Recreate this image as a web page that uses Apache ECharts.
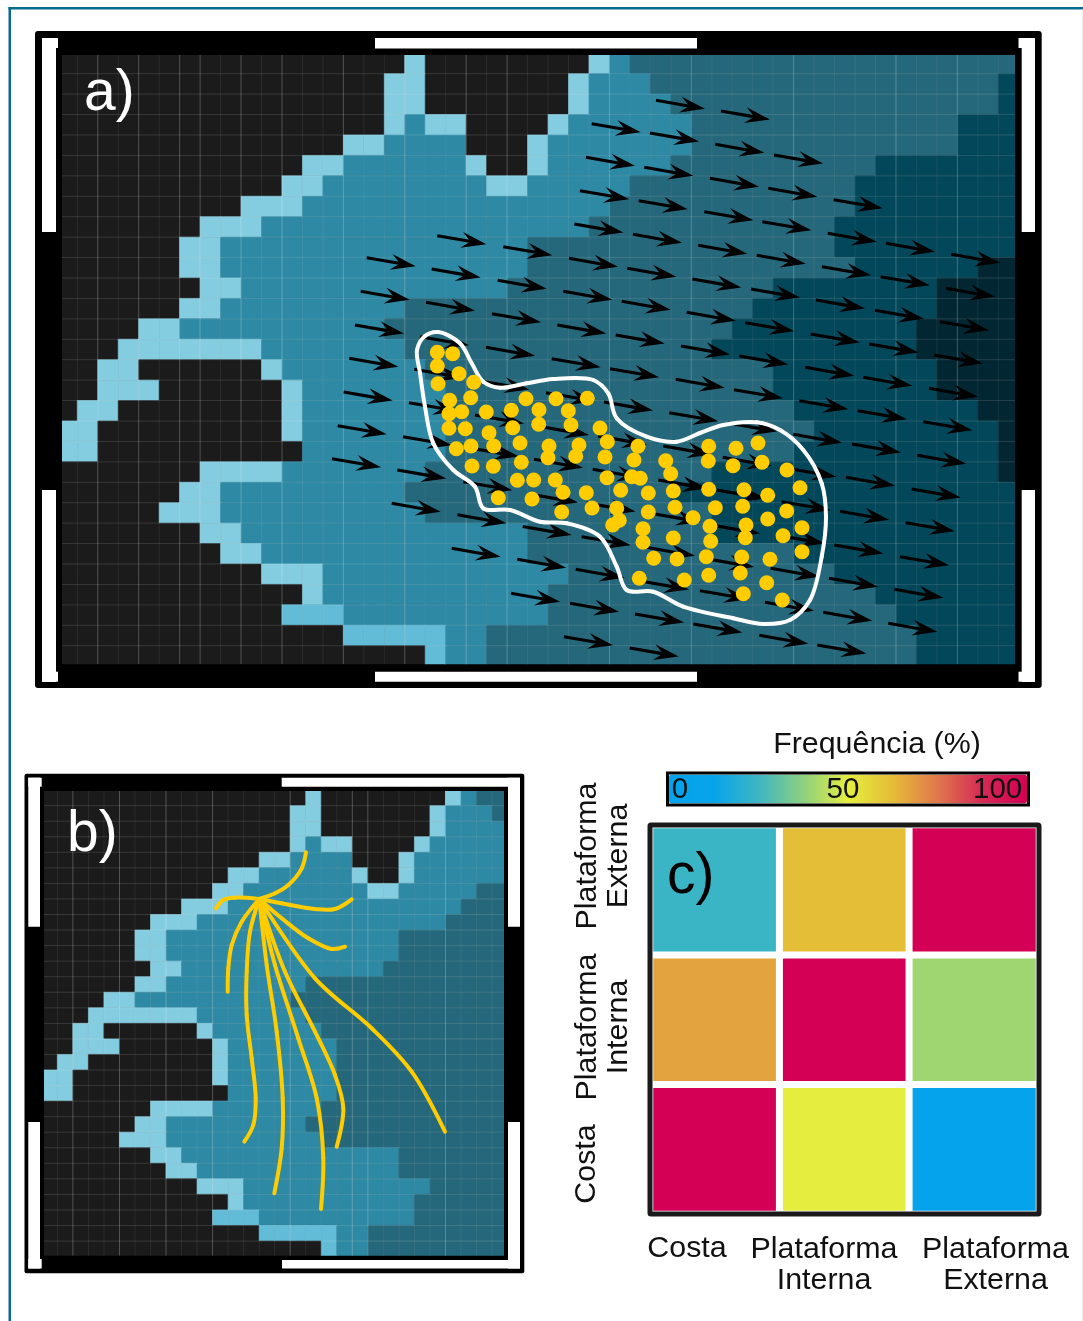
<!DOCTYPE html>
<html>
<head>
<meta charset="utf-8">
<style>html,body{margin:0;padding:0;background:#fff}#c{width:1083px;height:1321px}</style>
<script src="https://cdn.jsdelivr.net/npm/echarts@6/dist/echarts.min.js"></script>
</head>
<body>
<div id="c"></div>
<script>
// Depth class per cell, written per row as (class, last column of the run) pairs.
// 0 land, 1 shallow, 2 inner shelf, 3 mid shelf, 4 outer shelf, 5 deepest, 6 bright coast
const mapARows = [
 [0,16,1,17,0,25,1,26,2,27,3,46],
 [0,15,1,17,0,24,1,25,2,28,3,45,4,46],
 [0,15,1,17,0,24,1,25,2,29,3,45,4,46],
 [0,15,1,16,2,17,1,19,0,23,1,24,2,30,3,43,4,46],
 [0,13,1,15,2,19,0,22,1,23,2,30,3,43,4,46],
 [0,11,1,13,2,19,1,20,0,22,1,23,2,29,3,39,4,46],
 [0,10,1,12,2,20,1,22,2,27,3,38,4,46],
 [0,8,1,11,2,26,3,38,4,46],
 [0,6,1,9,2,25,3,37,4,46],
 [0,5,1,7,2,22,3,37,4,46],
 [0,5,1,7,2,22,3,38,4,44,5,46],
 [0,6,1,8,2,21,3,34,4,42,5,46],
 [0,5,1,7,2,16,3,33,4,42,5,46],
 [0,3,1,5,2,15,3,32,4,41,5,46],
 [0,2,1,9,2,16,3,31,4,41,5,46],
 [0,1,1,3,0,9,1,10,2,17,3,34,4,42,5,46],
 [0,1,1,4,0,10,1,11,2,18,3,34,4,42,5,46],
 [0,0,1,2,0,10,1,11,2,18,3,35,4,44,5,46],
 [1,1,0,10,1,11,2,18,3,36,4,45,5,46],
 [1,1,0,11,2,18,3,35,4,45,5,46],
 [0,6,1,10,2,17,3,31,4,45,5,46],
 [0,5,1,7,2,16,3,29,4,46],
 [0,4,1,7,2,17,3,31,4,46],
 [0,6,1,8,2,22,3,31,4,46],
 [0,7,1,9,2,22,3,35,4,46],
 [0,9,1,12,2,24,3,37,4,46],
 [0,11,1,12,2,23,3,39,4,46],
 [0,10,6,13,2,23,3,40,4,46],
 [0,13,6,18,2,20,3,41,4,46],
 [0,17,6,18,2,20,3,41,4,46]
];
const mapBRows = [
 [0,16,1,17,0,25,1,26,2,27,3,29],
 [0,15,1,17,0,24,1,25,2,28,3,29],
 [0,15,1,17,0,24,1,25,2,29],
 [0,15,1,16,2,17,1,19,0,23,1,24,2,29],
 [0,13,1,15,2,19,0,22,1,23,2,29],
 [0,11,1,13,2,19,1,20,0,22,1,23,2,29],
 [0,10,1,12,2,20,1,22,2,27,3,29],
 [0,8,1,11,2,26,3,29],
 [0,6,1,9,2,25,3,29],
 [0,5,1,7,2,22,3,29],
 [0,5,1,7,2,22,3,29],
 [0,6,1,8,2,21,3,29],
 [0,5,1,7,2,16,3,29],
 [0,3,1,5,2,15,3,29],
 [0,2,1,9,2,16,3,29],
 [0,1,1,3,0,9,1,10,2,17,3,29],
 [0,1,1,4,0,10,1,11,2,18,3,29],
 [0,0,1,2,0,10,1,11,2,18,3,29],
 [1,1,0,10,1,11,2,18,3,29],
 [1,1,0,11,2,18,3,29],
 [0,6,1,10,2,17,3,29],
 [0,5,1,7,2,16,3,29],
 [0,4,1,7,2,17,3,29],
 [0,6,1,8,2,22,3,29],
 [0,7,1,9,2,22,3,29],
 [0,9,1,12,2,24,3,29],
 [0,11,1,12,2,23,3,29],
 [0,10,6,13,2,23,3,29],
 [0,13,6,18,2,20,3,29],
 [0,17,6,18,2,20,3,29]
];
const depthColors = ['#1b1b1b','#84cce0','#2e89a4','#25687b','#03475a','#022733','#62bcd7'];

// Current vectors: tail points, on the overlay axes of panel a
const vectorTails = [
 [656,100.3],[721,111],
 [591.7,123.7],[650,133],[715.3,144.3],[774,155],
 [586,157.3],[644.3,167.3],[710,178.3],[768.3,188.3],[833.7,199.7],
 [580,190.7],[638.7,200.7],[704.3,211.7],[762.3,221.7],[827.7,233.3],[886,243.3],[951.3,254.3],
 [574.3,224],[633,234.3],[698.3,245.3],[756.7,255.3],[822,266.7],[880.7,276.7],[946,288.3],
 [437.3,235.7],[503.3,246.7],[569,258.3],[627.3,268.3],[692.3,279],[751,289],[816,300],[875,310.3],[940,321.7],
 [366.7,257.7],[431.7,269],[497.7,280.3],[563.3,291.3],[621.7,301.3],[686.7,312.3],[745.3,322.7],[810.7,334],[869.3,344],[934,355],
 [360.7,291.3],[426,302.3],[492,313.7],[557.3,325],[615.7,335],[681,346],[739.3,356],[805.3,367.3],[863.3,377.3],[929,388.3],
 [355,325],[420,336.7],[486,347.3],[551.7,358.7],[610,368.7],[675.7,379.3],[734,389.7],[799.3,400.7],[857.7,410.7],[923.3,421.7],
 [349.3,358.3],[414.3,369.3],[480.2,381],[546,392.7],[604,402],[669.3,412.7],[728,423],[793.3,434.3],[852,444],[917.3,455.3],
 [343.7,392],[409,402.7],[475,415],[540,426.5],[598,436],[663.3,446],[722.7,457.3],[787.3,468.3],[846,477.3],[911.7,489],
 [337.7,425.7],[403,436.7],[470,448],[534,459.3],[592.7,469.3],[658.3,480],[716.7,490],[781.7,501.7],[840,511.3],[905.7,522.7],
 [332,458.7],[397.3,470],[463.3,481.7],[529,494],[586.5,503],[652,513.5],[711,525],[775.9,535],[834.3,545],[900,556.7],
 [391.7,503.3],[457.5,514.8],[522.7,526.5],[581.7,536.7],[646,547.3],[705,558.5],[770.7,568.3],[829,578.3],[894.3,589.3],
 [451.7,548.3],[517.3,559.3],[575.7,569.3],[640,581],[700,590.7],[765,602.3],[823.3,612.3],[888.3,623.3],
 [511,593.3],[570,603.3],[635,614],[693.3,624],[759.3,635.3],[817.3,645],
 [564,636.7],[629.7,648]
];
const vectorU = 49, vectorV = 8.5;

// Sample sites, panel a
const samplePoints = [
 [437.3,352.3],[452.7,353.7],[437.3,366],[459,373.7],[438,383.7],[473.7,382.3],[470.7,397.7],[449.7,400.3],
 [449,413.7],[461.7,411.7],[486.3,412],[511.3,410.3],[526,398.7],[556,398.7],[587.3,398.3],[539,409.7],
 [568.3,410.7],[449,428.3],[465.3,428.7],[512.7,427.7],[538.7,424.3],[571,425],[489,432.7],[493.7,446],
 [471,446],[456.3,448.7],[520,443],[549,446],[579,445],[600,428],[607.3,441.7],[548,457.7],[575.7,456.3],
 [605,457],[638,446.3],[634,460],[665.7,460.7],[472,466],[493.3,466.3],[521.3,462.3],[607,477.7],[631.7,476.7],
 [640.3,478.3],[670.7,473.7],[517.3,480.3],[533.7,480],[555.3,480],[563,492.3],[586.3,492.7],[620.7,490.3],
 [648.3,493],[673.3,491],[498.3,497.7],[532,499],[561.7,512],[592,508],[616.7,508.3],[648.3,512],[675,507.3],
 [693,517.7],[619.3,520.3],[612.7,525],[643,528.7],[673.3,538],[643,542.3],[653.7,558.3],[677,559],[639.3,578.3],
 [684.3,580],[708.7,446.3],[736,448.3],[758,443],[708.3,461],[733,465.7],[762,462.3],[787,470],[800,487.7],
 [708.7,489.3],[744,489.7],[767.7,495.3],[715.3,507.7],[742.7,506.3],[786.7,511],[710,526.3],[767.7,519],
 [746,525],[802,527.7],[745.3,537.7],[783,535.7],[710.7,541.3],[802,551.7],[706.3,556.7],[741.7,557],[770,559.3],
 [740.3,573],[708.7,575.3],[766.7,582.7],[743.3,593.7],[782.3,600]
];

// Outline around the sample sites, panel a (closed)
const outlinePoints = [
 [438,332],[425,336],[417,350],[420,373],[425,406.7],[433.3,443.3],[453.3,470],[475,486.7],[483.3,508.3],[510,510],
 [540,521.7],[566.7,523.3],[600,536.7],[616.7,566.7],[626.7,590],[653.3,591.7],[683.3,606.7],[733.3,618.3],
 [763.3,624],[790,620],[810,600],[821.7,556.7],[826,516.7],[821.7,483.3],[803.3,450],[780,430],[756.7,422.3],
 [723.3,425],[700,433],[676.7,441.7],[646.7,436.7],[616.7,418.3],[608.3,393.3],[593.3,380],[553.3,379],
 [526.7,383.3],[500,387.7],[483.3,381.7],[471.7,363.3],[460,343.3]
];

// Dispersal paths, panel b
const dispersalPaths = [
 [[306,852.3],[301.7,868.3],[288.3,885],[275,893.3],[259.3,899]],
 [[216,908.3],[223.3,900],[235,897.7],[259.3,899]],
 [[259.3,899],[281.7,903.3],[315,909],[335,909],[351.7,899.3]],
 [[259.3,899],[281.7,918.3],[308.3,938.3],[331.7,949],[345,946.7]],
 [[259.3,899],[241.7,921.7],[231.7,945],[228.3,968.3],[227.7,991.7]],
 [[259.3,899],[250,931.7],[246.7,971.7],[246.7,1015],[251.7,1058.3],[255.7,1098.3],[253.3,1125],[244.3,1141.7]],
 [[259.3,899],[266.7,965],[276.7,1031.7],[282.7,1098.3],[281.7,1148.3],[274.3,1193.3]],
 [[259.3,899],[275,965],[298.3,1038.3],[316.7,1098.3],[323.3,1158.3],[321,1209]],
 [[259.3,899],[285,971.7],[315,1031.7],[335,1075],[343.3,1108.3],[336.7,1146.7]],
 [[259.3,899],[315,978.3],[371.7,1028.3],[411.7,1071.7],[445,1131.7]]
];

// Panel c: frequency (%), origin zone (columns) by destination zone (rows)
const zones = ['Costa','Plataforma Interna','Plataforma Externa'];
const freqCosta = [100, 50, 0];
const freqInterna = [67, 100, 40];
const freqExterna = [24, 62, 100];
const scaleTicks = ['0','50','100'];
const scaleColors = ['#05a3ec','#06a4ea','#3eb6c2','#8ed07f','#e5ee3f','#e5bc37','#e0774b','#d62a55','#d40055'];

function expand(rows){
  const out=[];
  rows.forEach((r,j)=>{ let c=0; for(let k=0;k<r.length;k+=2){ for(;c<=r[k+1];c++) out.push([c,j,r[k]]); } });
  return out;
}
function cellSeries(rows,xi,yi){
  return {type:'custom',xAxisIndex:xi,yAxisIndex:yi,clip:true,silent:true,progressive:0,animation:false,z:2,
    encode:{x:0,y:1},data:expand(rows),
    renderItem(p,api){
      const a=api.coord([api.value(0),api.value(1)]), b=api.coord([api.value(0)+1,api.value(1)+1]);
      const col=depthColors[api.value(2)];
      return {type:'rect',shape:{x:a[0],y:a[1],width:b[0]-a[0],height:b[1]-a[1]},style:{fill:col,stroke:col,lineWidth:0.6}};
    }};
}
function gridSeries(nc,nr,xr,yr,bright,xi,yi){
  const d=[];
  for(let i=1;i<nc;i++) d.push([0,i,bright.indexOf(i)>=0?1:0]);
  for(let j=1;j<nr;j++) d.push([1,j,0]);
  return {type:'custom',xAxisIndex:xi,yAxisIndex:yi,clip:true,silent:true,progressive:0,animation:false,z:3,
    encode:{x:1},data:d,
    renderItem(p,api){
      const isV=api.value(0)===0, v=api.value(1), a=isV?api.coord([v,yr[0]]):api.coord([xr[0],v]), b=isV?api.coord([v,yr[1]]):api.coord([xr[1],v]);
      const alpha=isV?(api.value(2)?0.26:0.09):0.14;
      return {type:'line',shape:{x1:a[0],y1:a[1],x2:b[0],y2:b[1]},style:{stroke:'rgba(255,255,255,'+alpha+')',lineWidth:1}};
    }};
}
// Smooth curve through the read points (centripetal spline), mapped by the axes
function curveSeries(name,points,closed,color,width,xi,yi,z){
  const n=points.length;
  const at=(i,api)=>{
    if(closed) return api.coord(points[(i+n)%n]);
    return api.coord(points[Math.max(0,Math.min(n-1,i))]);
  };
  const segData=(closed?points:points.slice(0,n-1));
  return {type:'custom',name,xAxisIndex:xi,yAxisIndex:yi,clip:true,silent:true,progressive:0,animation:false,z,
    encode:{x:0,y:1},data:segData,
    renderItem(params,api){
      const i=params.dataIndex,p0=at(i-1,api),p1=at(i,api),p2=at(i+1,api),p3=at(i+2,api);
      const dist=(a,b)=>Math.pow(Math.hypot(a[0]-b[0],a[1]-b[1]),0.5);
      const d1=dist(p0,p1),d2=dist(p1,p2),d3=dist(p2,p3);
      const c1=[0,1].map(k=>d1<1e-6?p1[k]:(d1*d1*p2[k]-d2*d2*p0[k]+(2*d1*d1+3*d1*d2+d2*d2)*p1[k])/(3*d1*(d1+d2)));
      const c2=[0,1].map(k=>d3<1e-6?p2[k]:(d3*d3*p1[k]-d2*d2*p3[k]+(2*d3*d3+3*d3*d2+d2*d2)*p2[k])/(3*d3*(d3+d2)));
      return {type:'bezierCurve',shape:{x1:p1[0],y1:p1[1],x2:p2[0],y2:p2[1],cpx1:c1[0],cpy1:c1[1],cpx2:c2[0],cpy2:c2[1]},
        style:{stroke:color,lineWidth:width,fill:null,lineCap:'round'}};
    }};
}
const axA={x:[0.252,46.816],y:[0.085,29.91]}, axB={x:[0.141,29.77],y:[0.057,29.943]};
function ax(grid,r,inv){return {type:'value',gridIndex:grid,min:r[0],max:r[1],show:false,inverse:!!inv};}

const FONT='"Liberation Sans", Arial, sans-serif';
function box(x,y,w,h,fill,r,z){return {type:'rect',shape:{x,y,width:w,height:h,r:r||0},style:{fill},z:z||0,silent:true};}
function txt(t,x,y,size,color,opt){return Object.assign({type:'text',x,y,z:30,silent:true,
  style:{text:t,fill:color,font:size+'px '+FONT,textAlign:'center',textVerticalAlign:'middle',lineHeight:31}},opt||{});}
function letter(t,x,y,color){return {type:'text',x,y,z:30,silent:true,style:{text:t,fill:color,font:'57px '+FONT,textAlign:'left',textVerticalAlign:'top'}};}

const graphics=[
  // page rule
  box(8.5,7,2.5,1314,'#076c8c'), box(8.5,7,1074.5,2.5,'#076c8c'), box(1082,9.5,1,1311,'#ececec'),
  // frame a
  box(35,31,1006.7,657,'#000',3),
  box(42,38,14,194,'#fff'),box(42,38,16,10,'#fff'),
  box(42,490,14,192,'#fff'),box(42,671.7,16,10,'#fff'),
  box(375,38,322,10.5,'#fff'),box(375,671.7,322,10,'#fff'),
  box(1021.7,38,13.3,194,'#fff'),box(1018.5,38,16.5,10,'#fff'),
  box(1021.7,490,13.3,192,'#fff'),box(1018.5,671.7,16.5,10,'#fff'),
  // frame b
  box(24.5,773.7,499.8,499.6,'#000',2),
  box(28.3,777.7,11.7,149,'#fff'),box(28.3,777.7,13.4,9,'#fff'),
  box(28.3,1122,11.7,146.5,'#fff'),box(28.3,1259,13.4,9.5,'#fff'),
  box(281.7,777.7,238.3,9,'#fff'),box(282,1260,238,8.5,'#fff'),
  box(508,777.7,12,149,'#fff'),box(508,1122,12,146.5,'#fff'),
  // frame c and scale border
  {type:'rect',shape:{x:650,y:825,width:389,height:389,r:1},style:{fill:'none',stroke:'#1a1a1a',lineWidth:5},z:20,silent:true},
  {type:'rect',shape:{x:667.5,y:773,width:361,height:32},style:{fill:'none',stroke:'#000',lineWidth:3},z:20,silent:true},
  // panel letters
  letter('a)',84,66,'#fff'), letter('b)',67,807,'#fff'), letter('c)',667,849,'#000'),
  // scale
  txt('Frequência (%)',877,744.5,30.4,'#111'),
  txt(scaleTicks[0],680,789.5,29.5,'#111'),txt(scaleTicks[1],843,789.5,29.5,'#111'),txt(scaleTicks[2],997.6,789.5,29.5,'#111'),
  // zone labels
  txt(zones[0],687,1249,30.4,'#111'),
  txt(zones[1].replace(' ','\n'),824,1265,30.4,'#111'),
  txt(zones[2].replace(' ','\n'),995.5,1265,30.4,'#111'),
  txt(zones[0],587,1164,30.4,'#111',{rotation:Math.PI/2}),
  txt(zones[1].replace(' ','\n'),603,1027,30.4,'#111',{rotation:Math.PI/2}),
  txt(zones[2].replace(' ','\n'),603,856,30.4,'#111',{rotation:Math.PI/2})
];

const heat=[];
[freqCosta,freqInterna,freqExterna].forEach((row,y)=>row.forEach((v,x)=>heat.push([x,y,v])));

const series=[
  cellSeries(mapARows,0,0),
  gridSeries(47,30,axA.x,axA.y,[2,4,6,7,9,11,14,17,20,22,27,31,36,41,44],0,0),
  {type:'custom',name:'vectors',xAxisIndex:1,yAxisIndex:1,clip:true,silent:true,progressive:0,animation:false,z:4,
   encode:{x:0,y:1},data:vectorTails.map(t=>[t[0],t[1],t[0]+vectorU,t[1]+vectorV]),
   renderItem(p,api){
     const a=api.coord([api.value(0),api.value(1)]), b=api.coord([api.value(2),api.value(3)]);
     const dx=b[0]-a[0],dy=b[1]-a[1],L=Math.hypot(dx,dy),ux=dx/L,uy=dy/L,nx=-uy,ny=ux;
     const pt=(al,pe)=>[b[0]+ux*al+nx*pe,b[1]+uy*al+ny*pe];
     return {type:'group',children:[
       {type:'line',shape:{x1:a[0],y1:a[1],x2:pt(-14,0)[0],y2:pt(-14,0)[1]},style:{stroke:'#000',lineWidth:3.1}},
       {type:'polygon',shape:{points:[b,pt(-25,-8),pt(-16,0),pt(-25,8)]},style:{fill:'#000'}}
     ]};
   }},
  curveSeries('outline',outlinePoints,true,'#fff',4,1,1,5),
  {type:'scatter',name:'sites',xAxisIndex:1,yAxisIndex:1,data:samplePoints,symbolSize:15,silent:true,animation:false,z:6,
   itemStyle:{color:'#ffcc00',opacity:1}},
  cellSeries(mapBRows,2,2),
  gridSeries(30,30,axB.x,axB.y,[2,5,8,11,16,20,21,26],2,2)
];
dispersalPaths.forEach((p,i)=>series.push(curveSeries('path'+i,p,false,'#ffcc00',4,3,3,5)));
series.push({type:'heatmap',name:'freq',xAxisIndex:4,yAxisIndex:4,data:heat,silent:true,animation:false,z:3,
   itemStyle:{borderColor:'#fff',borderWidth:7}});

const chart=echarts.init(document.getElementById('c'),null,{renderer:'canvas',width:1083,height:1321});
chart.setOption({
  backgroundColor:'#fff',animation:false,
  textStyle:{fontFamily:FONT},
  grid:[
    {left:62,top:55,width:953,height:609.3},
    {left:44,top:791,width:460,height:464.7},
    {left:650,top:825,width:389,height:389}
  ],
  xAxis:[
    ax(0,axA.x),ax(0,[62,1015]),ax(1,axB.x),ax(1,[44,504]),
    {type:'category',gridIndex:2,data:zones,show:false}
  ],
  yAxis:[
    ax(0,axA.y,true),ax(0,[55,664.3],true),ax(1,axB.y,true),ax(1,[791,1255.7],true),
    {type:'category',gridIndex:2,data:zones,show:false}
  ],
  visualMap:{type:'continuous',seriesIndex:series.length-1,min:0,max:100,orient:'horizontal',left:669,top:774.5,
    itemWidth:29,itemHeight:358,calculable:false,hoverLink:false,realtime:false,padding:0,text:null,
    inRange:{color:scaleColors}},
  graphic:{elements:graphics},
  series
});
</script>
</body>
</html>
